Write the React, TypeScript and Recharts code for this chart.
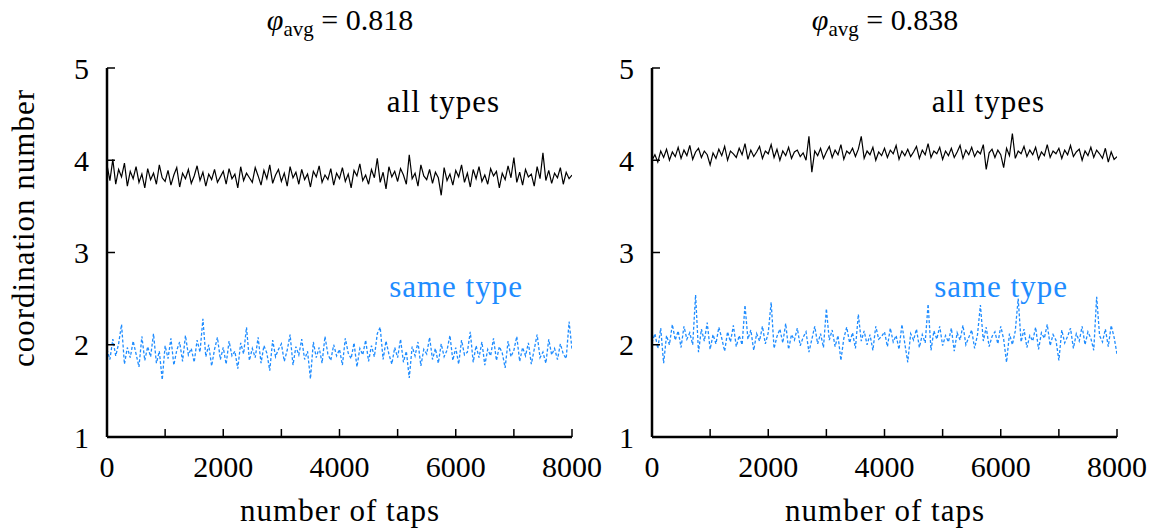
import { LineChart, Line, XAxis, YAxis } from 'recharts';

// coordination number vs. number of taps, one sample every 50 taps (0 .. 8000)
const TAP_STEP = 50;
const X_TICKS = [0, 1000, 2000, 3000, 4000, 5000, 6000, 7000, 8000];
const X_LABELS = ['0', '', '2000', '', '4000', '', '6000', '', '8000'];
const Y_TICKS = [1, 2, 3, 4, 5];

const PHI_LEFT = '0.818';
const PHI_RIGHT = '0.838';

// phi_avg = 0.818
const leftAllTypes = [
  3.95, 3.78, 4.01, 3.74, 3.9, 3.82, 3.97, 3.72, 3.88, 3.8,
  3.93, 3.76, 3.85, 3.7, 3.91, 3.79, 3.86, 3.74, 3.95, 3.81,
  3.77, 3.89, 3.73, 3.84, 3.92, 3.71, 3.86, 3.8, 3.9, 3.75,
  3.83, 3.94, 3.78, 3.87, 3.72, 3.85, 3.79, 3.9, 3.76, 3.82,
  3.88, 3.74, 3.91, 3.8, 3.85, 3.7, 3.93, 3.78, 3.86, 3.81,
  3.76, 3.92, 3.83, 3.73, 3.89, 3.8, 3.95, 3.75, 3.84, 3.9,
  3.77, 3.86, 3.72, 3.93, 3.81, 3.87, 3.74, 3.9, 3.79, 3.85,
  3.71, 3.88, 3.82, 3.94, 3.76, 3.84, 3.79, 3.91, 3.73, 3.86,
  3.8, 3.92, 3.77, 3.85, 3.7, 3.89, 3.83, 3.96, 3.78, 3.84,
  3.74, 3.9, 3.81, 4.02, 3.76, 3.87, 3.69, 3.93, 3.82, 3.88,
  3.77, 3.91, 3.84, 3.74, 4.06, 3.8, 3.86, 3.72, 3.95, 3.83,
  3.79, 3.9, 3.75, 3.87, 3.81, 3.62, 3.92, 3.78, 3.85, 3.73,
  3.89, 3.82, 3.95, 3.76, 3.86, 3.71, 3.9, 3.8, 3.93, 3.77,
  3.84, 3.74, 3.91, 3.83, 3.88, 3.7, 3.86, 3.79, 3.94, 3.81,
  4.03, 3.76, 3.87, 3.73, 3.9, 3.82, 3.85, 3.72, 3.93, 3.8,
  4.08, 3.78, 3.89, 3.75, 3.86, 3.81, 3.92, 3.74, 3.87, 3.8, 3.84,
];
const leftSameType = [
  1.95, 1.84, 2.06, 1.88, 2.01, 2.22, 1.79, 1.97, 1.86, 2.04,
  1.9, 1.76, 2.09, 1.83, 1.98, 1.87, 2.12, 1.8, 1.93, 1.62,
  1.99, 1.85, 2.07, 1.78, 1.94, 2.03, 1.82, 2.1, 1.89, 1.96,
  1.81, 2.05, 1.92, 2.28, 1.87, 2.0, 1.77, 1.95, 2.08, 1.84,
  1.97, 1.79, 2.04, 1.88, 1.93, 1.74, 2.02, 1.9, 2.19, 1.83,
  1.96, 1.86, 2.08, 1.8, 1.99, 1.91, 1.72, 2.05, 1.87, 1.95,
  2.01, 1.82, 1.94, 2.11, 1.78, 1.98, 1.89, 2.06, 1.84, 1.93,
  1.63, 2.03, 1.86, 1.97, 1.8, 2.09, 1.9, 1.83, 2.0, 1.88,
  1.95, 1.78, 2.07, 1.91, 1.85, 2.02, 1.76, 1.96, 1.89, 2.05,
  1.82, 1.99, 1.87, 2.12, 2.19, 1.84, 2.04, 1.9, 1.79, 1.97,
  1.86, 2.06, 1.81, 1.93, 1.64, 1.98, 1.88, 2.03, 1.77, 1.95,
  1.9, 2.08, 1.84, 1.96, 1.8, 2.01, 1.87, 1.94, 2.1, 1.83,
  1.97, 1.79, 2.05, 1.89, 1.92, 2.14, 1.81, 1.99, 1.86, 2.03,
  1.78, 1.95, 1.88, 2.07, 1.83, 1.98, 1.91, 1.75, 2.04, 1.87,
  1.94, 2.09, 1.82, 1.97, 1.88, 2.02, 1.79, 1.95, 2.11, 1.86,
  1.92, 1.8, 2.06, 1.89, 1.96, 1.84, 2.01, 1.9, 1.85, 2.25, 1.95,
];

// phi_avg = 0.838
const rightAllTypes = [
  4.0, 4.06, 3.98, 4.1, 4.03, 4.12, 4.0, 4.09, 4.04, 4.14,
  4.02, 4.11, 4.05, 4.16, 4.01, 4.09, 4.13, 4.03, 4.1, 4.06,
  3.95, 4.08, 4.02, 4.12, 4.05, 4.15, 4.0, 4.1, 4.07, 4.03,
  4.13, 4.06, 4.18, 4.01, 4.11, 4.04, 4.09, 4.15, 4.02, 4.1,
  4.07, 4.17, 4.03, 4.12, 4.0, 4.1, 4.05, 4.14, 4.02, 4.09,
  4.11, 4.04, 4.08, 4.0, 4.26, 3.87, 4.1, 4.05, 4.13, 4.02,
  4.09, 4.15, 4.03, 4.11, 4.06, 4.17, 4.01, 4.1, 4.07, 4.13,
  4.04, 4.12, 4.26, 4.02, 4.1, 4.06, 4.14, 4.0, 4.09, 4.05,
  4.13, 4.03, 4.11, 4.07, 4.16, 4.01, 4.1, 4.05, 4.12, 4.04,
  4.09, 4.15, 4.02, 4.11, 4.06, 4.18, 4.03, 4.1, 4.07, 4.14,
  4.01, 4.1, 4.05, 4.13, 4.03, 4.09, 4.16, 4.02, 4.11, 4.06,
  4.14, 4.04, 4.1, 4.07, 4.17, 3.9, 4.08, 4.12, 4.03, 4.11,
  4.06, 3.92, 4.13, 4.05, 4.29, 4.02, 4.1, 4.07, 4.15, 4.04,
  4.11, 4.06, 4.14, 4.01, 4.09, 4.05, 4.17, 4.03, 4.1, 4.07,
  4.13, 4.02, 4.11, 4.06, 4.16, 4.04, 4.09, 4.12, 4.0, 4.1,
  4.05, 4.14, 4.03, 4.11, 4.07, 4.02, 4.13, 3.98, 4.09, 4.01, 4.04,
];
const rightSameType = [
  2.02, 2.12, 1.96, 2.18, 1.8, 2.1, 2.0, 2.22, 2.05, 2.15,
  1.97, 2.2, 2.06, 2.13, 2.0, 2.54, 1.92, 2.17, 2.04, 2.24,
  1.95, 2.11, 2.01, 2.19, 2.07, 1.93, 2.14, 2.03, 2.21, 1.98,
  2.1, 2.0, 2.43, 2.06, 2.16, 1.94, 2.12, 2.04, 2.2, 2.01,
  2.13, 2.46, 1.96, 2.09, 2.17, 2.02, 2.23, 1.95, 2.11, 2.05,
  2.18, 1.99, 2.08, 2.14, 1.92, 2.06, 2.2, 2.01, 2.12, 1.97,
  2.39, 2.05, 2.16, 1.98, 2.1, 1.83, 2.07, 2.19, 2.02, 2.13,
  1.96, 2.33, 2.04, 2.15, 2.0, 2.11, 1.94, 2.2, 2.06, 2.09,
  2.14, 1.98, 2.18, 2.03, 2.1, 1.95, 2.22, 2.01, 1.81, 2.12,
  2.05, 2.17, 1.97, 2.11, 2.02, 2.44, 1.94, 2.15, 2.06, 2.2,
  1.99, 2.1, 2.03, 2.18, 1.93, 2.13, 2.05, 2.21, 2.0, 2.08,
  2.16, 1.96, 2.11, 2.43, 2.04, 2.19, 1.98, 2.09, 2.14, 2.01,
  2.2, 2.06, 1.81, 2.12, 2.0, 2.15, 2.5, 2.03, 2.17, 1.97,
  2.1, 2.04, 2.19, 1.95, 2.13, 2.07, 2.22, 1.99, 2.11, 2.05,
  1.83, 2.16, 2.02, 2.09, 2.18, 1.96, 2.12, 2.04, 2.2, 2.0,
  2.14, 2.07, 1.94, 2.52, 2.1, 2.03, 2.17, 1.98, 2.21, 2.08, 1.9,
];

const FONT = 'Liberation Serif, Tinos, DejaVu Serif, Noto Serif, serif';
const BLUE = '#1e8cff';

const buildRows = (all: number[], same: number[]) =>
  all.map((v, i) => ({ tap: i * TAP_STEP, all: v, same: same[i] }));

const frame = { stroke: '#000', strokeWidth: 2.5 };
const tickLine = { stroke: '#000', strokeWidth: 1.5 };
const tickStyle = { fontSize: 30, fill: '#000', style: { fontFamily: FONT } };

function Panel({ all, same }: { all: number[]; same: number[] }) {
  const rows = buildRows(all, same);
  return (
    <LineChart width={620} height={532} data={rows} margin={{ top: 68, right: 48, bottom: 0, left: 0 }}>
      <XAxis
        xAxisId="b"
        dataKey="tap"
        type="number"
        domain={[0, 8000]}
        allowDataOverflow
        ticks={X_TICKS}
        interval={0}
        height={95}
        tickSize={-8}
        tickMargin={27}
        axisLine={frame}
        tickLine={tickLine}
        tick={tickStyle}
        tickFormatter={(v: number) => X_LABELS[X_TICKS.indexOf(v)] ?? ''}
      />
      <XAxis
        xAxisId="t"
        orientation="top"
        dataKey="tap"
        type="number"
        domain={[0, 8000]}
        allowDataOverflow
        ticks={X_TICKS}
        interval={0}
        height={0}
        tickSize={-8}
        axisLine={frame}
        tickLine={tickLine}
        tick={false}
      />
      <YAxis
        yAxisId="l"
        type="number"
        domain={[1, 5]}
        allowDataOverflow
        ticks={Y_TICKS}
        interval={0}
        width={107}
        tickSize={-8}
        tickMargin={26}
        axisLine={frame}
        tickLine={tickLine}
        tick={tickStyle}
      />
      <YAxis
        yAxisId="r"
        orientation="right"
        type="number"
        domain={[1, 5]}
        allowDataOverflow
        ticks={Y_TICKS}
        interval={0}
        width={0}
        tickSize={-8}
        axisLine={frame}
        tickLine={tickLine}
        tick={false}
      />
      <Line
        xAxisId="b"
        yAxisId="l"
        dataKey="all"
        type="linear"
        stroke="#000"
        strokeWidth={1.2}
        dot={false}
        activeDot={false}
        isAnimationActive={false}
      />
      <Line
        xAxisId="b"
        yAxisId="l"
        dataKey="same"
        type="linear"
        stroke={BLUE}
        strokeWidth={1.3}
        strokeDasharray="3 2"
        dot={false}
        activeDot={false}
        isAnimationActive={false}
      />
    </LineChart>
  );
}

function Title({ x, phi }: { x: number; phi: string }) {
  return (
    <text x={x} y={30} textAnchor="middle" fontSize={30} fill="#000" style={{ fontFamily: FONT }}>
      <tspan fontStyle="italic">φ</tspan>
      <tspan fontSize={21} dy={6}>avg</tspan>
      <tspan dy={-6}>{` = ${phi}`}</tspan>
    </text>
  );
}

export default function App() {
  const label = { fontSize: 31, letterSpacing: 1, style: { fontFamily: FONT } };
  return (
    <div
      style={{
        position: 'absolute',
        left: 0,
        top: 0,
        width: 1161,
        height: 532,
        overflow: 'hidden',
        background: '#fff',
        fontFamily: FONT,
      }}
    >
      <div style={{ position: 'absolute', left: 0, top: 0 }}>
        <Panel all={leftAllTypes} same={leftSameType} />
      </div>
      <div style={{ position: 'absolute', left: 545, top: 0 }}>
        <Panel all={rightAllTypes} same={rightSameType} />
      </div>
      <svg width={1161} height={532} style={{ position: 'absolute', left: 0, top: 0, pointerEvents: 'none' }}>
        <Title x={340} phi={PHI_LEFT} />
        <Title x={885} phi={PHI_RIGHT} />
        <text x={500} y={112} textAnchor="end" fill="#000" {...label}>all types</text>
        <text x={523} y={297} textAnchor="end" fill={BLUE} {...label}>same type</text>
        <text x={1045} y={112} textAnchor="end" fill="#000" {...label}>all types</text>
        <text x={1068} y={297} textAnchor="end" fill={BLUE} {...label}>same type</text>
        <text x={340} y={521} textAnchor="middle" fill="#000" {...label}>number of taps</text>
        <text x={885} y={521} textAnchor="middle" fill="#000" {...label}>number of taps</text>
        <text transform="translate(34 228) rotate(-90)" textAnchor="middle" fill="#000" {...label}>
          coordination number
        </text>
      </svg>
    </div>
  );
}
